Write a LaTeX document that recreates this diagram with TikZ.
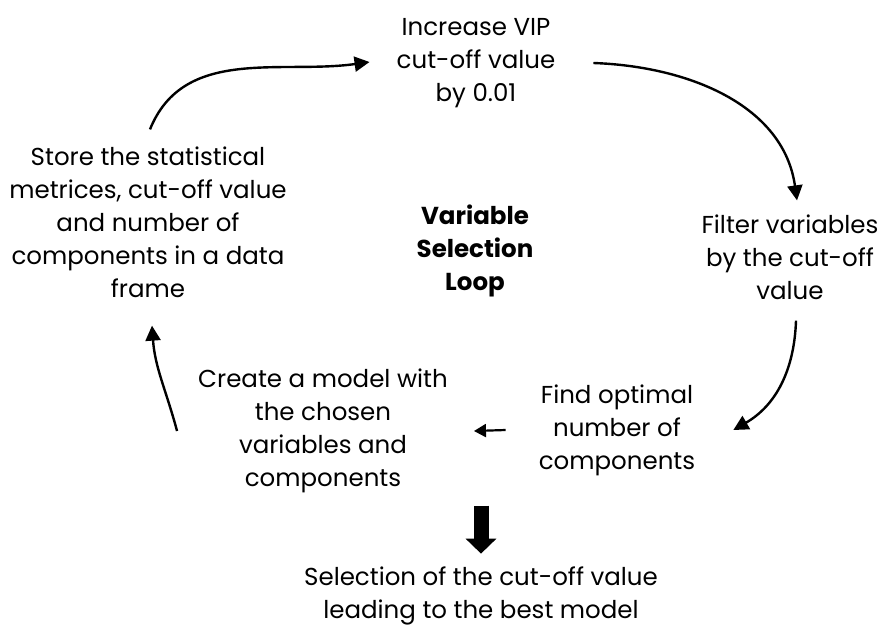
\documentclass[tikz,border=0pt]{standalone}
\usepackage{fontspec}
\setmainfont{Poppins}
\usetikzlibrary{arrows.meta}

\begin{document}
\begin{tikzpicture}[x=1pt,y=-1pt,line width=2.4pt,
  box/.style={align=center,inner sep=0pt,font=\fontsize{24.5}{33}\selectfont},
  flow/.style={-{Triangle[length=15pt,width=15pt]}}]
\useasboundingbox (0,0) rectangle (890,630);

\coordinate (I) at (476,63);
\coordinate (F) at (790,257);
\coordinate (N) at (617,430);
\coordinate (M) at (323,431);
\coordinate (S) at (148,222);
\coordinate (L) at (475,251);
\coordinate (B) at (481,596);

\node[box] (incr) at (I) {Increase VIP\\cut-off value\\by 0.01};
\node[box] (filter) at (F) {Filter variables\\by the cut-off\\value};
\node[box] (find) at (N) {Find optimal\\number of\\components};
\node[box] (model) at (M) {Create a model with\\the chosen\\variables and\\components};
\node[box] (store) at (S) {Store the statistical\\metrices, cut-off value\\and number of\\components in a data\\frame};
\node[box,font=\fontsize{24.5}{33}\selectfont\bfseries] (loop) at (L) {Variable\\Selection\\Loop};
\node[box] (best) at (B) {Selection of the cut-off value\\leading to the best model};

\draw[flow] ([xshift=2pt,yshift=16pt]store.north) to[out=68,in=188] ([xshift=-26pt,yshift=1pt]incr.west);
\draw[flow] ([xshift=37pt]incr.east) to[out=-2,in=98] ([xshift=7pt,yshift=13pt]filter.north);
\draw[flow] ([xshift=6pt,yshift=-20pt]filter.south) to[out=-92,in=30] ([xshift=37pt]find.east);
\draw[line width=2.2pt,-{Triangle[length=12pt,width=13pt]}] ([xshift=-32pt]find.west) -- ([xshift=25pt]model.east);
\draw[flow] ([xshift=-20pt]model.west) to[out=105,in=-86] ([xshift=4pt,yshift=-27pt]store.south);

\draw[line width=15pt,-{Triangle[length=15pt,width=30pt]}] ([yshift=60pt]best.north) -- ([yshift=12pt]best.north);

\end{tikzpicture}
\end{document}
